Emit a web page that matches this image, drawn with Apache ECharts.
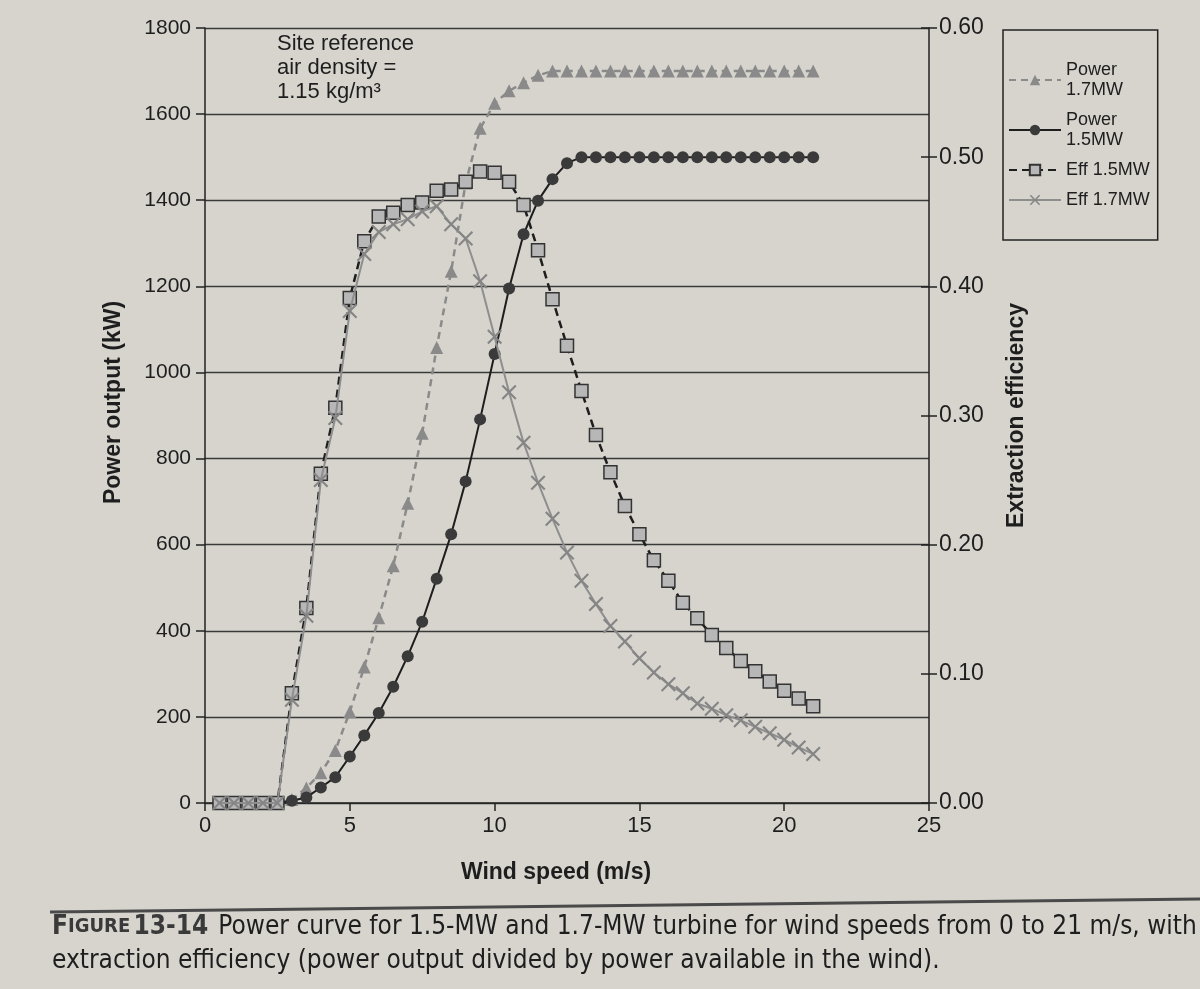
<!DOCTYPE html>
<html>
<head>
<meta charset="utf-8">
<script src="https://cdn.jsdelivr.net/npm/echarts@6/dist/echarts.min.js"></script>
<style>
  html, body { margin: 0; padding: 0; background: #d7d4ce; }
  #chart { width: 1200px; height: 989px; }
</style>
</head>
<body>
<div id="chart"></div>
<script>
// ---- data ----
const windSpeed = [0.5,1,1.5,2,2.5,3,3.5,4,4.5,5,5.5,6,6.5,7,7.5,8,8.5,9,9.5,10,10.5,11,11.5,12,12.5,13,13.5,14,14.5,15,15.5,16,16.5,17,17.5,18,18.5,19,19.5,20,20.5,21];
const power17 = [0,0,0,0,0,8,35,70,122,212,316,430,551,696,859,1058,1235,1440,1567,1625,1654,1673,1690,1700,1700,1700,1700,1700,1700,1700,1700,1700,1700,1700,1700,1700,1700,1700,1700,1700,1700,1700];
const power15 = [0,0,0,0,0,5,13,36,60,108,157,209,270,341,421,521,624,747,891,1043,1195,1321,1399,1449,1486,1500,1500,1500,1500,1500,1500,1500,1500,1500,1500,1500,1500,1500,1500,1500,1500,1500];
const eff15 = [0,0,0,0,0,0.085,0.151,0.255,0.306,0.391,0.435,0.454,0.457,0.463,0.465,0.474,0.475,0.481,0.489,0.488,0.481,0.463,0.428,0.390,0.354,0.319,0.285,0.256,0.230,0.208,0.188,0.172,0.155,0.143,0.130,0.120,0.110,0.102,0.094,0.087,0.081,0.075];
const eff17 = [0,0,0,0,0,0.080,0.145,0.250,0.298,0.381,0.425,0.442,0.448,0.452,0.458,0.462,0.448,0.437,0.404,0.361,0.318,0.279,0.248,0.220,0.194,0.172,0.154,0.137,0.125,0.112,0.101,0.092,0.085,0.077,0.073,0.068,0.064,0.059,0.054,0.049,0.043,0.038];
const powerTicks = [0,200,400,600,800,1000,1200,1400,1600,1800];
const effTicks = [0.00,0.10,0.20,0.30,0.40,0.50,0.60];
const speedTicks = [0,5,10,15,20,25];
const seriesNames = ['Power 1.7MW','Power 1.5MW','Eff 1.5MW','Eff 1.7MW'];

const pairs = arr => windSpeed.map((w, i) => [w, arr[i]]);

const FONT = '"Liberation Sans", Arial, Helvetica, sans-serif';
const CAP = '"Liberation Sans Narrow", "Arial Narrow", "DejaVu Sans Condensed", sans-serif';
const INK = '#1e1e1e';
const GRAY = '#8a8a8a';
const XSYM = 'path://M1,0 L5,4 L9,0 L10,1 L6,5 L10,9 L9,10 L5,6 L1,10 L0,9 L4,5 L0,1 Z';

const chart = echarts.init(document.getElementById('chart'));
chart.setOption({
  backgroundColor: '#d7d4ce',
  animation: false,
  textStyle: { fontFamily: FONT, color: INK },
  grid: { left: 205, right: 271, top: 28, bottom: 186, containLabel: false },
  legend: {
    orient: 'vertical',
    left: 1003, top: 30,
    padding: [30, 8, 30, 5],
    itemGap: 10,
    itemWidth: 52, itemHeight: 13,
    borderColor: '#222', borderWidth: 1.5,
    data: seriesNames,
    formatter: n => ({'Power 1.7MW': 'Power\n1.7MW', 'Power 1.5MW': 'Power\n1.5MW'})[n] || n,
    textStyle: { fontFamily: FONT, fontSize: 18, color: INK, lineHeight: 20 }
  },
  xAxis: {
    type: 'value', min: 0, max: 25, interval: 5,
    name: 'Wind speed (m/s)', nameLocation: 'middle', nameGap: 58,
    nameTextStyle: { fontFamily: FONT, fontSize: 23, fontWeight: 'bold', color: INK, padding: [0, 22, 0, 0] },
    axisLine: { show: true, lineStyle: { color: '#222', width: 1.5 } },
    axisTick: { show: true, length: 8, lineStyle: { color: '#222', width: 1.5 } },
    axisLabel: { fontSize: 22, color: INK, margin: 12, fontFamily: FONT,
      customValues: speedTicks, formatter: v => String(v) },
    splitLine: { show: false }
  },
  yAxis: [
    {
      type: 'value', min: 0, max: 1800, interval: 200, position: 'left',
      name: 'Power output (kW)', nameLocation: 'middle', nameGap: 80, nameRotate: 90,
      nameTextStyle: { fontFamily: FONT, fontSize: 23, fontWeight: 'bold', color: INK, padding: [0, 0, 0, 26] },
      axisLine: { show: true, lineStyle: { color: '#222', width: 1.5 } },
      axisTick: { show: true, length: 9, lineStyle: { color: '#222', width: 1.5 } },
      axisLabel: { fontSize: 21, color: INK, margin: 14, fontFamily: FONT,
        customValues: powerTicks, formatter: v => String(v) },
      splitLine: { show: true, lineStyle: { color: '#3a3a3a', width: 1.3 } }
    },
    {
      type: 'value', min: 0, max: 0.6, interval: 0.1, position: 'right',
      name: 'Extraction efficiency', nameLocation: 'middle', nameGap: 76, nameRotate: 90,
      nameTextStyle: { fontFamily: FONT, fontSize: 23, fontWeight: 'bold', color: INK },
      axisLine: { show: true, lineStyle: { color: '#222', width: 1.5 } },
      axisTick: { show: true, length: 8, lineStyle: { color: '#222', width: 1.5 } },
      axisLabel: { fontSize: 23, color: INK, margin: 10, fontFamily: FONT,
        customValues: effTicks, formatter: v => v.toFixed(2) },
      splitLine: { show: false }
    },
    {
      type: 'value', min: 0, max: 0.6, interval: 0.1, position: 'right',
      axisLine: { show: false },
      axisTick: { show: true, inside: true, length: 8, lineStyle: { color: '#222', width: 1.5 } },
      axisLabel: { show: false },
      splitLine: { show: false }
    }
  ],
  series: [
    {
      name: 'Power 1.7MW', type: 'line', yAxisIndex: 0, data: pairs(power17),
      symbol: 'triangle', symbolSize: 13,
      itemStyle: { color: GRAY },
      lineStyle: { color: GRAY, width: 2.5, type: [7, 5] },
      z: 2
    },
    {
      name: 'Power 1.5MW', type: 'line', yAxisIndex: 0, data: pairs(power15),
      symbol: 'circle', symbolSize: 12,
      itemStyle: { color: '#3a3a3a' },
      lineStyle: { color: '#1e1e1e', width: 2 },
      z: 3
    },
    {
      name: 'Eff 1.5MW', type: 'line', yAxisIndex: 1, data: pairs(eff15),
      symbol: 'rect', symbolSize: 13,
      itemStyle: { color: '#b7b7b7', borderColor: '#333', borderWidth: 1.5 },
      lineStyle: { color: '#1e1e1e', width: 2.5, type: [8, 5] },
      z: 4
    },
    {
      name: 'Eff 1.7MW', type: 'line', yAxisIndex: 1, data: pairs(eff17),
      symbol: XSYM, symbolSize: 15,
      itemStyle: { color: '#858585' },
      lineStyle: { color: '#8e8e8e', width: 2 },
      z: 5
    }
  ],
  graphic: [
    {
      type: 'text', left: 277, top: 32,
      style: { text: 'Site reference\nair density =\n1.15 kg/m³', font: '22px ' + FONT, fill: INK, lineHeight: 24 }
    },
    {
      type: 'line', shape: { x1: 50, y1: 912, x2: 1200, y2: 899 },
      style: { stroke: '#4a4a4a', lineWidth: 3 }
    },
    {
      type: 'text', left: 52, top: 914,
      style: {
        text: '{b|F}{s|IGURE} {b|13-14}   {r|Power curve for 1.5-MW and 1.7-MW turbine for wind speeds from 0 to 21 m/s, with}',
        rich: {
          b: { fontFamily: CAP, fontSize: 26, fontWeight: 'bold', fill: '#3a3a3a' },
          s: { fontFamily: CAP, fontSize: 20, fontWeight: 'bold', fill: '#3a3a3a' },
          r: { fontFamily: CAP, fontSize: 26, fill: '#1e1e1e' }
        }
      }
    },
    {
      type: 'text', left: 52, top: 948,
      style: { text: 'extraction efficiency (power output divided by power available in the wind).',
        font: '26px ' + CAP, fill: '#1e1e1e' }
    }
  ]
});
</script>
</body>
</html>
